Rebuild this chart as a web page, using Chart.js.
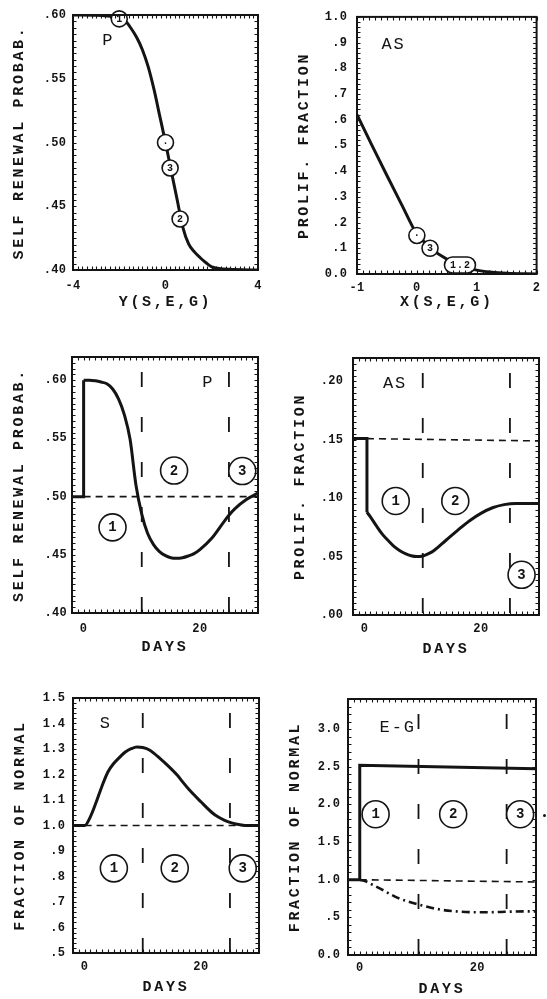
<!DOCTYPE html>
<html>
<head>
<meta charset="utf-8">
<script src="https://cdn.jsdelivr.net/npm/chart.js@4.4.1/dist/chart.umd.min.js"></script>
<style>
  html, body { margin: 0; background: #fff; }
  body { position: relative; width: 547px; height: 999px; overflow: hidden; }
  .panel { position: absolute; }
  .speck { position: absolute; left: 543px; top: 814px; width: 3px; height: 3px; border-radius: 50%; background: #141414; }
</style>
</head>
<body>
<div class="panel" style="left:0;top:0;width:280px;height:312px"><canvas id="c1"></canvas></div>
<div class="panel" style="left:280px;top:0;width:267px;height:312px"><canvas id="c2"></canvas></div>
<div class="panel" style="left:0;top:330px;width:280px;height:330px"><canvas id="c3"></canvas></div>
<div class="panel" style="left:280px;top:330px;width:267px;height:330px"><canvas id="c4"></canvas></div>
<div class="panel" style="left:0;top:670px;width:280px;height:329px"><canvas id="c5"></canvas></div>
<div class="panel" style="left:280px;top:670px;width:267px;height:329px"><canvas id="c6"></canvas></div>
<div class="speck"></div>
<script>
// ---- data ----
// self renewal probability of P as a function of Y(S,E,G)
const yArg = [-4, -3, -2.5, -2.25, -2, -1.75, -1.5, -1.25, -1, -0.75, -0.5, -0.25, 0, 0.25, 0.5, 0.75, 1, 1.25, 1.5, 1.75, 2, 2.5, 3, 4];
const pRenewalOfY = [0.600, 0.5998, 0.5993, 0.5988, 0.598, 0.5955, 0.5898, 0.5825, 0.5728, 0.5595, 0.5418, 0.5209, 0.500, 0.4775, 0.4555, 0.4335, 0.4205, 0.4142, 0.4096, 0.4057, 0.4025, 0.4008, 0.4003, 0.400];

// proliferative fraction of AS as a function of X(S,E,G)
const xArg = [-1, -0.75, -0.5, -0.25, 0, 0.125, 0.25, 0.5, 0.75, 1, 1.25, 1.5, 2];
const asFracOfX = [0.62, 0.50, 0.383, 0.268, 0.155, 0.125, 0.097, 0.058, 0.032, 0.015, 0.007, 0.003, 0.0];

// time courses (days)
const pStepDays = [-2, 0, 0];
const pStepVals = [0.5, 0.5, 0.6];
const pDays = [0, 1, 2, 3, 4, 5, 6, 7, 8, 9, 10, 11, 12, 13, 14, 15, 16, 17, 18, 19, 20, 22, 24, 25, 26, 28, 30];
const pRenewal = [0.600, 0.600, 0.5995, 0.5985, 0.597, 0.5925, 0.584, 0.5705, 0.549, 0.510, 0.485, 0.4685, 0.459, 0.453, 0.4495, 0.4475, 0.447, 0.4475, 0.449, 0.451, 0.4545, 0.464, 0.4775, 0.484, 0.4895, 0.4975, 0.503];

const asStepDays = [-2, 0.4, 0.4];
const asStepVals = [0.151, 0.151, 0.088];
const asDays = [0.4, 1, 2, 3, 4, 5, 6, 7, 8, 9, 10, 11, 12, 14, 16, 18, 20, 22, 24, 26, 28, 30];
const asFrac = [0.088, 0.084, 0.0765, 0.0695, 0.064, 0.059, 0.0553, 0.0525, 0.0507, 0.0500, 0.0505, 0.0525, 0.0555, 0.064, 0.0725, 0.0805, 0.087, 0.0918, 0.0945, 0.0955, 0.0955, 0.0955];

const sDays = [-2, 0, 1, 2, 3, 4, 5, 6, 7, 8, 9, 10, 11, 12, 13, 14, 16, 17, 18, 20, 22, 23, 24, 25, 26, 27, 28, 30];
const sFrac = [1.0, 1.0, 1.035, 1.092, 1.155, 1.21, 1.243, 1.267, 1.288, 1.301, 1.308, 1.306, 1.298, 1.282, 1.262, 1.242, 1.196, 1.167, 1.14, 1.093, 1.049, 1.033, 1.021, 1.012, 1.006, 1.002, 1.0, 1.0];

const egStepDays = [-2, 0, 0, 30];
const egStepVals = [1.0, 1.0, 2.52, 2.475];
const egLowDays = [0, 1, 2, 4, 6, 8, 10, 12, 14, 16, 18, 20, 22, 24, 26, 28, 30];
const egLow = [1.0, 0.98, 0.94, 0.86, 0.775, 0.715, 0.672, 0.63, 0.60, 0.582, 0.572, 0.568, 0.568, 0.572, 0.577, 0.58, 0.58];

// reference levels (normal) and phase boundaries
const phaseDays = [10, 25];
const pNormal = [[0, 0.5], [30, 0.5]];
const asNormal = [[0.4, 0.151], [30, 0.149]];
const sNormal = [[0, 1.0], [30, 1.0]];
const egNormal = [[0, 1.0], [30, 0.97]];

// tick values and labels
const p1YTicks = [0.40, 0.45, 0.50, 0.55, 0.60];
const p1YLabels = ['.40', '.45', '.50', '.55', '.60'];
const p1XTicks = [-4, 0, 4];
const p1XLabels = ['-4', '0', '4'];
const p2YTicks = [0, 0.1, 0.2, 0.3, 0.4, 0.5, 0.6, 0.7, 0.8, 0.9, 1.0];
const p2YLabels = ['0.0', '.1', '.2', '.3', '.4', '.5', '.6', '.7', '.8', '.9', '1.0'];
const p2XTicks = [-1, 0, 1, 2];
const p2XLabels = ['-1', '0', '1', '2'];
const p4YTicks = [0, 0.05, 0.10, 0.15, 0.20];
const p4YLabels = ['.00', '.05', '.10', '.15', '.20'];
const p5YTicks = [0.5, 0.6, 0.7, 0.8, 0.9, 1.0, 1.1, 1.2, 1.3, 1.4, 1.5];
const p5YLabels = ['.5', '.6', '.7', '.8', '.9', '1.0', '1.1', '1.2', '1.3', '1.4', '1.5'];
const p6YTicks = [0, 0.5, 1.0, 1.5, 2.0, 2.5, 3.0];
const p6YLabels = ['0.0', '.5', '1.0', '1.5', '2.0', '2.5', '3.0'];
const dayTicks = [0, 20];
const dayLabels = ['0', '20'];

// ---- drawing helpers ----
const INK = '#141414';
const FONT = '"Liberation Mono", "DejaVu Sans Mono", monospace';

const pts = (xs, ys) => xs.map((x, i) => ({ x, y: ys[i] }));

function curve(xs, ys) {
  return { data: pts(xs, ys), borderColor: INK, borderWidth: 3, pointRadius: 0, cubicInterpolationMode: 'monotone' };
}
function steps(xs, ys) {
  return { data: pts(xs, ys), borderColor: INK, borderWidth: 3, pointRadius: 0, tension: 0 };
}
function normalLine(pair) {
  return { data: pair.map(p => ({ x: p[0], y: p[1] })), borderColor: INK, borderWidth: 1.6, borderDash: [7, 5], pointRadius: 0 };
}
function phaseLines(lo, hi) {
  return phaseDays.map(d => ({
    data: [{ x: d, y: hi }, { x: d, y: lo }],
    borderColor: INK, borderWidth: 1.8, borderDash: [15, 30], borderDashOffset: 30, pointRadius: 0
  }));
}

// box, inward minor ticks, circled labels and panel name
const frame = {
  id: 'marks',
  beforeDraw(chart) {
    chart.ctx.letterSpacing = '2.7px';
  },
  afterDatasetsDraw(chart, args, o) {
    const { ctx, chartArea: a, scales: { x, y } } = chart;
    ctx.save();
    ctx.fillStyle = INK;
    ctx.strokeStyle = INK;
    ctx.textAlign = 'center';
    ctx.textBaseline = 'middle';

    (o.circles || []).forEach(c => {
      const px = x.getPixelForValue(c.x), py = y.getPixelForValue(c.y);
      const r = o.r, w = c.w || 0;
      ctx.beginPath();
      if (w) {
        ctx.moveTo(px - w / 2, py - r);
        ctx.lineTo(px + w / 2, py - r);
        ctx.arc(px + w / 2, py, r, -Math.PI / 2, Math.PI / 2);
        ctx.lineTo(px - w / 2, py + r);
        ctx.arc(px - w / 2, py, r, Math.PI / 2, Math.PI * 1.5);
      } else {
        ctx.arc(px, py, r, 0, Math.PI * 2);
      }
      ctx.fillStyle = '#fff';
      ctx.fill();
      ctx.lineWidth = 1.6;
      ctx.stroke();
      ctx.fillStyle = INK;
      ctx.letterSpacing = c.text.length > 1 ? '1px' : '0px';
      ctx.font = 'bold ' + o.fontSize + 'px ' + FONT;
      ctx.fillText(c.text, px + (c.text.length > 1 ? 0.5 : 0), py + 0.5);
    });

    if (o.name) {
      ctx.letterSpacing = '2px';
      ctx.font = '17px ' + FONT;
      ctx.fillText(o.name.text, x.getPixelForValue(o.name.x) + 1, y.getPixelForValue(o.name.y));
    }

    ctx.lineWidth = 2;
    ctx.strokeRect(a.left, a.top, a.right - a.left, a.bottom - a.top);

    const len = 3.5;
    ctx.lineWidth = 1.1;
    ctx.beginPath();
    const n0 = Math.ceil(x.min / o.xStep - 1e-6), n1 = Math.floor(x.max / o.xStep + 1e-6);
    for (let n = n0; n <= n1; n++) {
      const px = Math.round(x.getPixelForValue(n * o.xStep)) + 0.5;
      ctx.moveTo(px, a.bottom); ctx.lineTo(px, a.bottom - len);
      ctx.moveTo(px, a.top); ctx.lineTo(px, a.top + len);
    }
    const m0 = Math.ceil(y.min / o.yStep - 1e-6), m1 = Math.floor(y.max / o.yStep + 1e-6);
    for (let m = m0; m <= m1; m++) {
      const py = Math.round(y.getPixelForValue(m * o.yStep)) + 0.5;
      ctx.moveTo(a.left, py); ctx.lineTo(a.left + len, py);
      ctx.moveTo(a.right, py); ctx.lineTo(a.right - len, py);
    }
    ctx.stroke();
    ctx.restore();
    // tick labels are drawn after this hook, with tighter spacing
    ctx.letterSpacing = '0.3px';
  }
};

function axis(min, max, ticks, labels, title, size, tickPad, titlePad, horizontal) {
  return {
    type: 'linear', min, max,
    grid: { display: false, drawTicks: false },
    border: { display: false },
    afterFit: s => { if (horizontal) s.height = size; else s.width = size; },
    afterBuildTicks: s => { s.ticks = ticks.map(v => ({ value: v })); },
    ticks: {
      z: 1, autoSkip: false, maxRotation: 0, padding: tickPad, color: INK,
      font: { family: FONT, size: 12, weight: 'bold' },
      callback: (v, i) => labels[i]
    },
    title: {
      display: true, text: title, color: INK,
      font: { family: FONT, size: 15, weight: 'bold' },
      padding: horizontal ? { top: 0, bottom: titlePad } : { top: titlePad, bottom: 0 }
    }
  };
}

function panel(id, cfg) {
  return new Chart(document.getElementById(id), {
    type: 'line',
    data: { datasets: cfg.datasets },
    options: {
      responsive: true, maintainAspectRatio: false, animation: false, events: [],
      layout: { padding: { top: cfg.top, right: cfg.right, bottom: 0, left: 0 } },
      plugins: { legend: { display: false }, tooltip: { enabled: false }, marks: cfg.marks },
      scales: { x: cfg.x, y: cfg.y }
    },
    plugins: [frame]
  });
}

// ---- panels ----
panel('c1', {
  top: 15, right: 22,
  datasets: [curve(yArg, pRenewalOfY)],
  x: axis(-4, 4, p1XTicks, p1XLabels, 'Y(S,E,G)', 42, 8.8, 1, true),
  y: axis(0.40, 0.60, p1YTicks, p1YLabels, 'SELF RENEWAL PROBAB.', 73, 6.7, 10.2, false),
  marks: {
    xStep: 0.2, yStep: 0.005, r: 8, fontSize: 10,
    circles: [{ x: -2, y: 0.597, text: '1' }, { x: 0, y: 0.5, text: '·' }, { x: 0.2, y: 0.48, text: '3' }, { x: 0.63, y: 0.44, text: '2' }],
    name: { x: -2.51, y: 0.580, text: 'P' }
  }
});

panel('c2', {
  top: 16, right: 7,
  datasets: [curve(xArg, asFracOfX)],
  x: axis(-1, 2, p2XTicks, p2XLabels, 'X(S,E,G)', 38, 6.8, 1, true),
  y: axis(0, 1, p2YTicks, p2YLabels, 'PROLIF. FRACTION', 77, 9.7, 15.5, false),
  marks: {
    xStep: 0.1, yStep: 0.02, r: 8, fontSize: 10,
    circles: [{ x: 0, y: 0.15, text: '·' }, { x: 0.22, y: 0.10, text: '3' }, { x: 0.72, y: 0.035, text: '1.2', w: 15 }],
    name: { x: -0.405, y: 0.894, text: 'AS' }
  }
});

panel('c3', {
  top: 27, right: 22,
  datasets: [normalLine(pNormal), ...phaseLines(0.40, 0.62), steps(pStepDays, pStepVals), curve(pDays, pRenewal)],
  x: axis(-2, 30, dayTicks, dayLabels, 'DAYS', 47, 8.8, 4, true),
  y: axis(0.40, 0.62, p1YTicks, p1YLabels, 'SELF RENEWAL PROBAB.', 72, 5, 10, false),
  marks: {
    xStep: 1, yStep: 0.005, r: 13.5, fontSize: 14,
    circles: [{ x: 4.97, y: 0.4736, text: '1' }, { x: 15.56, y: 0.5224, text: '2' }, { x: 27.3, y: 0.522, text: '3' }],
    name: { x: 21.3, y: 0.598, text: 'P' }
  }
});

panel('c4', {
  top: 28, right: 8,
  datasets: [normalLine(asNormal), ...phaseLines(0, 0.22), steps(asStepDays, asStepVals), curve(asDays, asFrac)],
  x: axis(-2, 30, dayTicks, dayLabels, 'DAYS', 45, 6.8, 2, true),
  y: axis(0, 0.22, p4YTicks, p4YLabels, 'PROLIF. FRACTION', 73, 9.7, 11.5, false),
  marks: {
    xStep: 1, yStep: 0.005, r: 13.5, fontSize: 14,
    circles: [{ x: 5.35, y: 0.0976, text: '1' }, { x: 15.6, y: 0.0976, text: '2' }, { x: 27.0, y: 0.0344, text: '3' }],
    name: { x: 5.07, y: 0.198, text: 'AS' }
  }
});

panel('c5', {
  top: 28, right: 21,
  datasets: [normalLine(sNormal), ...phaseLines(0.5, 1.5), curve(sDays, sFrac)],
  x: axis(-2, 30, dayTicks, dayLabels, 'DAYS', 46, 6.8, 2.5, true),
  y: axis(0.5, 1.5, p5YTicks, p5YLabels, 'FRACTION OF NORMAL', 73, 7.7, 11, false),
  marks: {
    xStep: 1, yStep: 0.02, r: 13.5, fontSize: 14,
    circles: [{ x: 5.03, y: 0.832, text: '1' }, { x: 15.5, y: 0.832, text: '2' }, { x: 27.2, y: 0.832, text: '3' }],
    name: { x: 3.48, y: 1.399, text: 'S' }
  }
});

panel('c6', {
  top: 29, right: 11,
  datasets: [
    normalLine(egNormal), ...phaseLines(0, 3.4), steps(egStepDays, egStepVals),
    { data: pts(egLowDays, egLow), borderColor: INK, borderWidth: 2.6, borderDash: [8, 4, 2, 4], pointRadius: 0, cubicInterpolationMode: 'monotone' }
  ],
  x: axis(-2, 30, dayTicks, dayLabels, 'DAYS', 44, 5.8, 1, true),
  y: axis(0, 3.4, p6YTicks, p6YLabels, 'FRACTION OF NORMAL', 68, 7.7, 6.5, false),
  marks: {
    xStep: 1, yStep: 0.1, r: 13.5, fontSize: 14,
    circles: [{ x: 2.7, y: 1.87, text: '1' }, { x: 15.9, y: 1.87, text: '2' }, { x: 27.3, y: 1.87, text: '3' }],
    name: { x: 6.3, y: 3.02, text: 'E-G' }
  }
});
</script>
</body>
</html>
